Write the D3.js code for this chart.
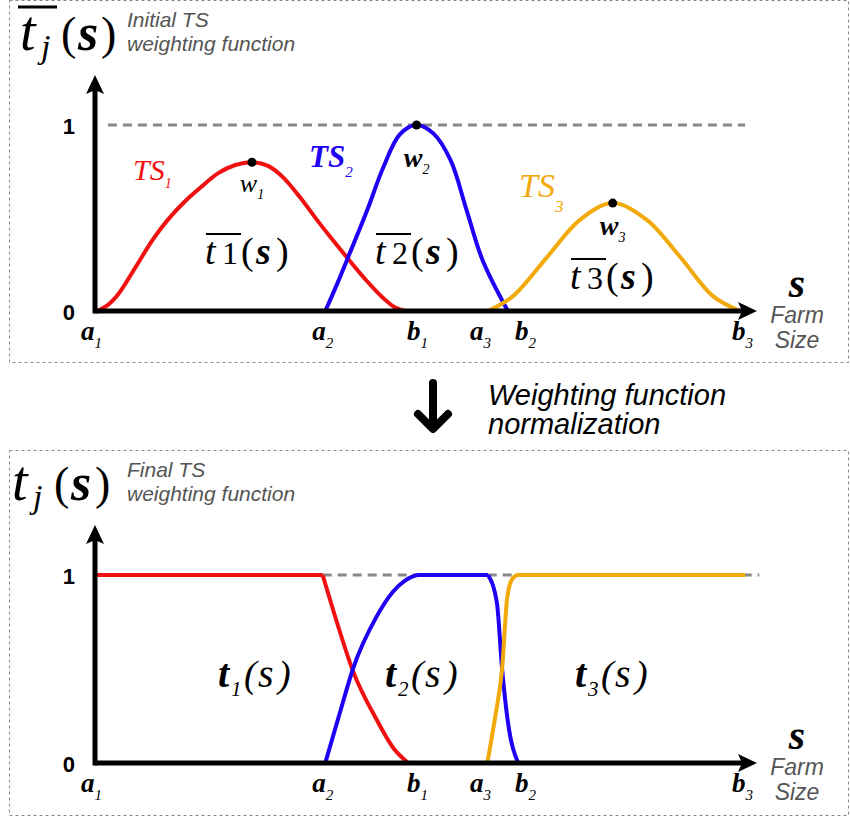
<!DOCTYPE html>
<html>
<head>
<meta charset="utf-8">
<script src="https://cdn.jsdelivr.net/npm/d3@7"></script>
<style>
  body { margin: 0; background: #fff; }
  .it { font-style: italic; }
  .bi { font-style: italic; font-weight: bold; }
</style>
</head>
<body>
<svg id="chart" width="850" height="818"></svg>
<script>
// farm size in arbitrary units: a1 = 0 ... b3 = 100, weight 0..1
var tickNames = ["a", "a", "b", "a", "b", "b"];
var tickSubs = ["1", "2", "1", "3", "2", "3"];
var tickValues = [0, 35.5, 47.9, 60.8, 63.9, 100];

// initial weighting functions (top)
var tbar1 = [[0,0],[1.6,0.03],[3.3,0.09],[5.9,0.23],[8.6,0.38],[11.0,0.49],[13.7,0.59],[16.3,0.67],[18.8,0.74],[21.5,0.785],[24.1,0.80],
             [26.6,0.78],[28.9,0.72],[31.6,0.61],[34.2,0.49],[36.7,0.38],[39.3,0.27],[42.0,0.16],[44.5,0.07],[46.3,0.02],[47.9,0]];
var tbar2 = [[35.5,0],[37.4,0.15],[39.3,0.31],[42.0,0.54],[44.5,0.77],[47.1,0.95],[49.7,1.0],[52.3,0.955],[55.0,0.81],[57.5,0.54],[60.0,0.27],[63.9,0]];
var tbar3 = [[60.8,0],[64.7,0.08],[70.0,0.29],[75.1,0.49],[80.2,0.58],[85.5,0.49],[90.7,0.29],[95.8,0.08],[100,0]];
var peaks = [[24.1,0.80],[49.7,1.0],[80.2,0.58]];

// final (normalized) weighting functions (bottom)
var t1Flat = [[0,1],[35.1,1]];
var t1Fall = [[35.1,1],[37.3,0.75],[39.8,0.49],[43.5,0.23],[46.3,0.07],[48.4,0]];
var t2Rise = [[35.5,0],[38.3,0.33],[39.8,0.5],[43.5,0.78],[46.0,0.91],[47.9,0.97],[50.2,1],[60.8,1]];
var t2Fall = [[60.8,1],[62.2,0.85],[63.0,0.5],[63.9,0.22],[65.5,0]];
var t3Rise = [[60.7,0],[61.9,0.24],[63.0,0.5],[63.8,0.88],[64.6,0.98],[65.5,1],[100.8,1]];

var RED = "#f01010", BLUE = "#2000f5", ORANGE = "#f2aa0a";

// pick the first installed family from a list
function pickFont(list, fallback) {
  var ctx = document.createElement("canvas").getContext("2d");
  var probe = "tTSwa(s)mjb1";
  ctx.font = "40px monospace";
  var base = ctx.measureText(probe).width;
  for (var i = 0; i < list.length; i++) {
    ctx.font = "40px '" + list[i] + "', monospace";
    if (ctx.measureText(probe).width !== base) return "'" + list[i] + "'";
  }
  return fallback;
}
var SERIF = pickFont(["Liberation Serif", "DejaVu Serif", "Noto Serif", "Times New Roman", "Tinos", "FreeSerif", "Nimbus Roman"], "serif");
var SANS = pickFont(["Liberation Sans", "Arial", "Helvetica", "Arimo", "Roboto"], "sans-serif");

var svg = d3.select("#chart");

var x = d3.scaleLinear().domain([0, 100]).range([97, 740]);
var yTop = d3.scaleLinear().domain([0, 1]).range([311, 125]);
var yBot = d3.scaleLinear().domain([0, 1]).range([763, 575]);

// dashed frames
svg.append("rect").attr("x", 9.5).attr("y", 0.5).attr("width", 839).attr("height", 362)
  .attr("fill", "none").attr("stroke", "#888").attr("stroke-dasharray", "3,3");
svg.append("rect").attr("x", 9.5).attr("y", 450.5).attr("width", 839).attr("height", 365)
  .attr("fill", "none").attr("stroke", "#888").attr("stroke-dasharray", "3,3");

function piece(g, px, py, txt, cls, size, sans) {
  return g.append("text").attr("x", px).attr("y", py).attr("class", cls)
    .style("font-family", sans ? SANS : SERIF)
    .style("font-size", size + "px").text(txt);
}

function makePanel(y, dashFrom, dashTo) {
  var g = svg.append("g");
  var line = d3.line().x(function(d) { return x(d[0]); }).y(function(d) { return y(d[1]); });

  // reference line at 1
  g.append("line")
    .attr("x1", x(dashFrom)).attr("x2", x(dashTo))
    .attr("y1", y(1)).attr("y2", y(1))
    .attr("stroke", "#888").attr("stroke-width", 3).attr("stroke-dasharray", "9,6");

  var axX = x(0) - 2;
  var tipX = 757, tipY = y(1) - 50;

  var panel = { g: g, y: y };
  panel.draw = function(data, color, curve) {
    g.append("path").datum(data).attr("d", line.curve(curve)(data))
      .attr("fill", "none").attr("stroke", color).attr("stroke-width", 4);
  };
  panel.axes = function() {
    g.append("line").attr("x1", axX).attr("x2", tipX - 12).attr("y1", y(0)).attr("y2", y(0))
      .attr("stroke", "#000").attr("stroke-width", 5);
    g.append("line").attr("x1", axX).attr("x2", axX).attr("y1", y(0) + 2.5).attr("y2", tipY + 12)
      .attr("stroke", "#000").attr("stroke-width", 5);
    g.append("path")
      .attr("d", "M" + tipX + "," + y(0) + " l-19,-9 l4,9 l-4,9 z").attr("fill", "#000");
    g.append("path")
      .attr("d", "M" + axX + "," + tipY + " l-9,19 l9,-4 l9,4 z").attr("fill", "#000");

    var ya = g.append("g").attr("transform", "translate(" + axX + ",0)")
      .call(d3.axisLeft(y).tickValues([0, 1]).tickSize(0).tickPadding(20).tickFormat(d3.format("d")));
    ya.select(".domain").remove();
    ya.selectAll("text").style("font-family", SANS).style("font-size", "22px")
      .style("font-weight", "bold").attr("fill", "#000").attr("dy", "0.38em");

    // farm size tick labels
    var dxs = [-16, -13, 2, -18, 7, -8];
    tickValues.forEach(function(v, i) {
      var t = g.append("text").attr("x", x(v) + dxs[i]).attr("y", y(0) + 29).style("font-family", SERIF);
      t.append("tspan").attr("class", "bi").style("font-size", "27px").text(tickNames[i]);
      t.append("tspan").attr("class", "it").style("font-size", "15px").attr("dy", 8).text(tickSubs[i]);
    });

    piece(g, 797, y(0) - 14, "s", "bi", 42).attr("text-anchor", "middle");
    piece(g, 797, y(0) + 12, "Farm", "it", 23, true).attr("text-anchor", "middle").attr("fill", "#555");
    piece(g, 797, y(0) + 37, "Size", "it", 23, true).attr("text-anchor", "middle").attr("fill", "#555");
  };
  return panel;
}

var smooth = d3.curveCatmullRom.alpha(0.5);

// ---- top panel ----
var topP = makePanel(yTop, 1.7, 100.8);
var tg = topP.g;
topP.draw(tbar1, RED, smooth);
topP.draw(tbar2, BLUE, smooth);
topP.draw(tbar3, ORANGE, smooth);
topP.axes();

tg.selectAll(".peak").data(peaks).enter().append("circle")
  .attr("cx", function(d) { return x(d[0]); }).attr("cy", function(d) { return yTop(d[1]); })
  .attr("r", 4.5).attr("fill", "#000");

var wOff = [30, 42, 32], wCls = ["it", "bi", "bi"], wSize = [26, 28, 28];
peaks.forEach(function(p, i) {
  var t = tg.append("text").attr("x", x(p[0])).attr("y", yTop(p[1]) + wOff[i])
    .attr("text-anchor", "middle").style("font-family", SERIF);
  t.append("tspan").attr("class", wCls[i]).style("font-size", wSize[i] + "px").text("w");
  t.append("tspan").attr("class", "it").style("font-size", "14px").attr("dy", 7).text(String(i + 1));
});

function tsLabel(px, py, cls, size, sub, subSize, subDy, color) {
  var t = tg.append("text").attr("x", px).attr("y", py).attr("fill", color).style("font-family", SERIF);
  t.append("tspan").attr("class", cls).style("font-size", size + "px").text("TS");
  t.append("tspan").attr("class", "it").style("font-size", subSize + "px").attr("dy", subDy).text(sub);
}
tsLabel(133, 180, "it", 30, "1", 14, 8, RED);
tsLabel(309, 167, "bi", 31, "2", 15, 10, BLUE);
tsLabel(519, 197, "it", 34, "3", 17, 15, ORANGE);

function tbarLabel(x0, yb, digit) {
  tg.append("line").attr("x1", x0 + 1).attr("x2", x0 + 36).attr("y1", yb - 30).attr("y2", yb - 30)
    .attr("stroke", "#000").attr("stroke-width", 2);
  piece(tg, x0, yb, "t", "it", 38);
  piece(tg, x0 + 17, yb, digit, "", 32);
  piece(tg, x0 + 36, yb, "(", "", 38);
  piece(tg, x0 + 51, yb, "s", "bi", 38);
  piece(tg, x0 + 71, yb, ")", "", 38);
}
tbarLabel(205, 264, "1");
tbarLabel(375, 264, "2");
tbarLabel(570, 289, "3");

// header
svg.append("line").attr("x1", 18).attr("x2", 57).attr("y1", 7).attr("y2", 7)
  .attr("stroke", "#000").attr("stroke-width", 3);
piece(svg, 20, 50, "t", "it", 56);
piece(svg, 41, 58, "j", "it", 34);
piece(svg, 61, 49, "(", "", 46);
piece(svg, 78, 50, "s", "bi", 52);
piece(svg, 101, 49, ")", "", 46);
piece(svg, 127, 27, "Initial TS", "it", 21, true).attr("fill", "#555");
piece(svg, 127, 51, "weighting function", "it", 21, true).attr("fill", "#555");

// ---- middle ----
svg.append("path").attr("d", "M433,383 L433,428 M418,414 L433,429 L448,414")
  .attr("fill", "none").attr("stroke", "#000").attr("stroke-width", 8)
  .attr("stroke-linecap", "round").attr("stroke-linejoin", "round");
piece(svg, 488, 405, "Weighting function", "it", 29, true);
piece(svg, 488, 434, "normalization", "it", 29, true);

// ---- bottom panel ----
var botP = makePanel(yBot, 35.1, 103);
var bg = botP.g;
botP.draw(t1Flat, RED, d3.curveLinear);
botP.draw(t1Fall, RED, d3.curveMonotoneX);
botP.draw(t2Rise, BLUE, d3.curveMonotoneX);
botP.draw(t2Fall, BLUE, d3.curveMonotoneX);
botP.draw(t3Rise, ORANGE, d3.curveMonotoneX);
botP.axes();

function tLabel(x0, yb, digit) {
  piece(bg, x0, yb, "t", "bi", 40);
  piece(bg, x0 + 13, yb + 9, digit, "it", 21);
  piece(bg, x0 + 26, yb, "(", "it", 38);
  piece(bg, x0 + 40, yb, "s", "it", 40);
  piece(bg, x0 + 60, yb, ")", "it", 38);
}
tLabel(218, 687, "1");
tLabel(385, 687, "2");
tLabel(575, 687, "3");

piece(svg, 12, 500, "t", "it", 56);
piece(svg, 33, 508, "j", "it", 34);
piece(svg, 54, 499, "(", "", 46);
piece(svg, 71, 500, "s", "bi", 52);
piece(svg, 95, 499, ")", "", 46);
piece(svg, 127, 477, "Final TS", "it", 21, true).attr("fill", "#555");
piece(svg, 127, 501, "weighting function", "it", 21, true).attr("fill", "#555");
</script>
</body>
</html>
